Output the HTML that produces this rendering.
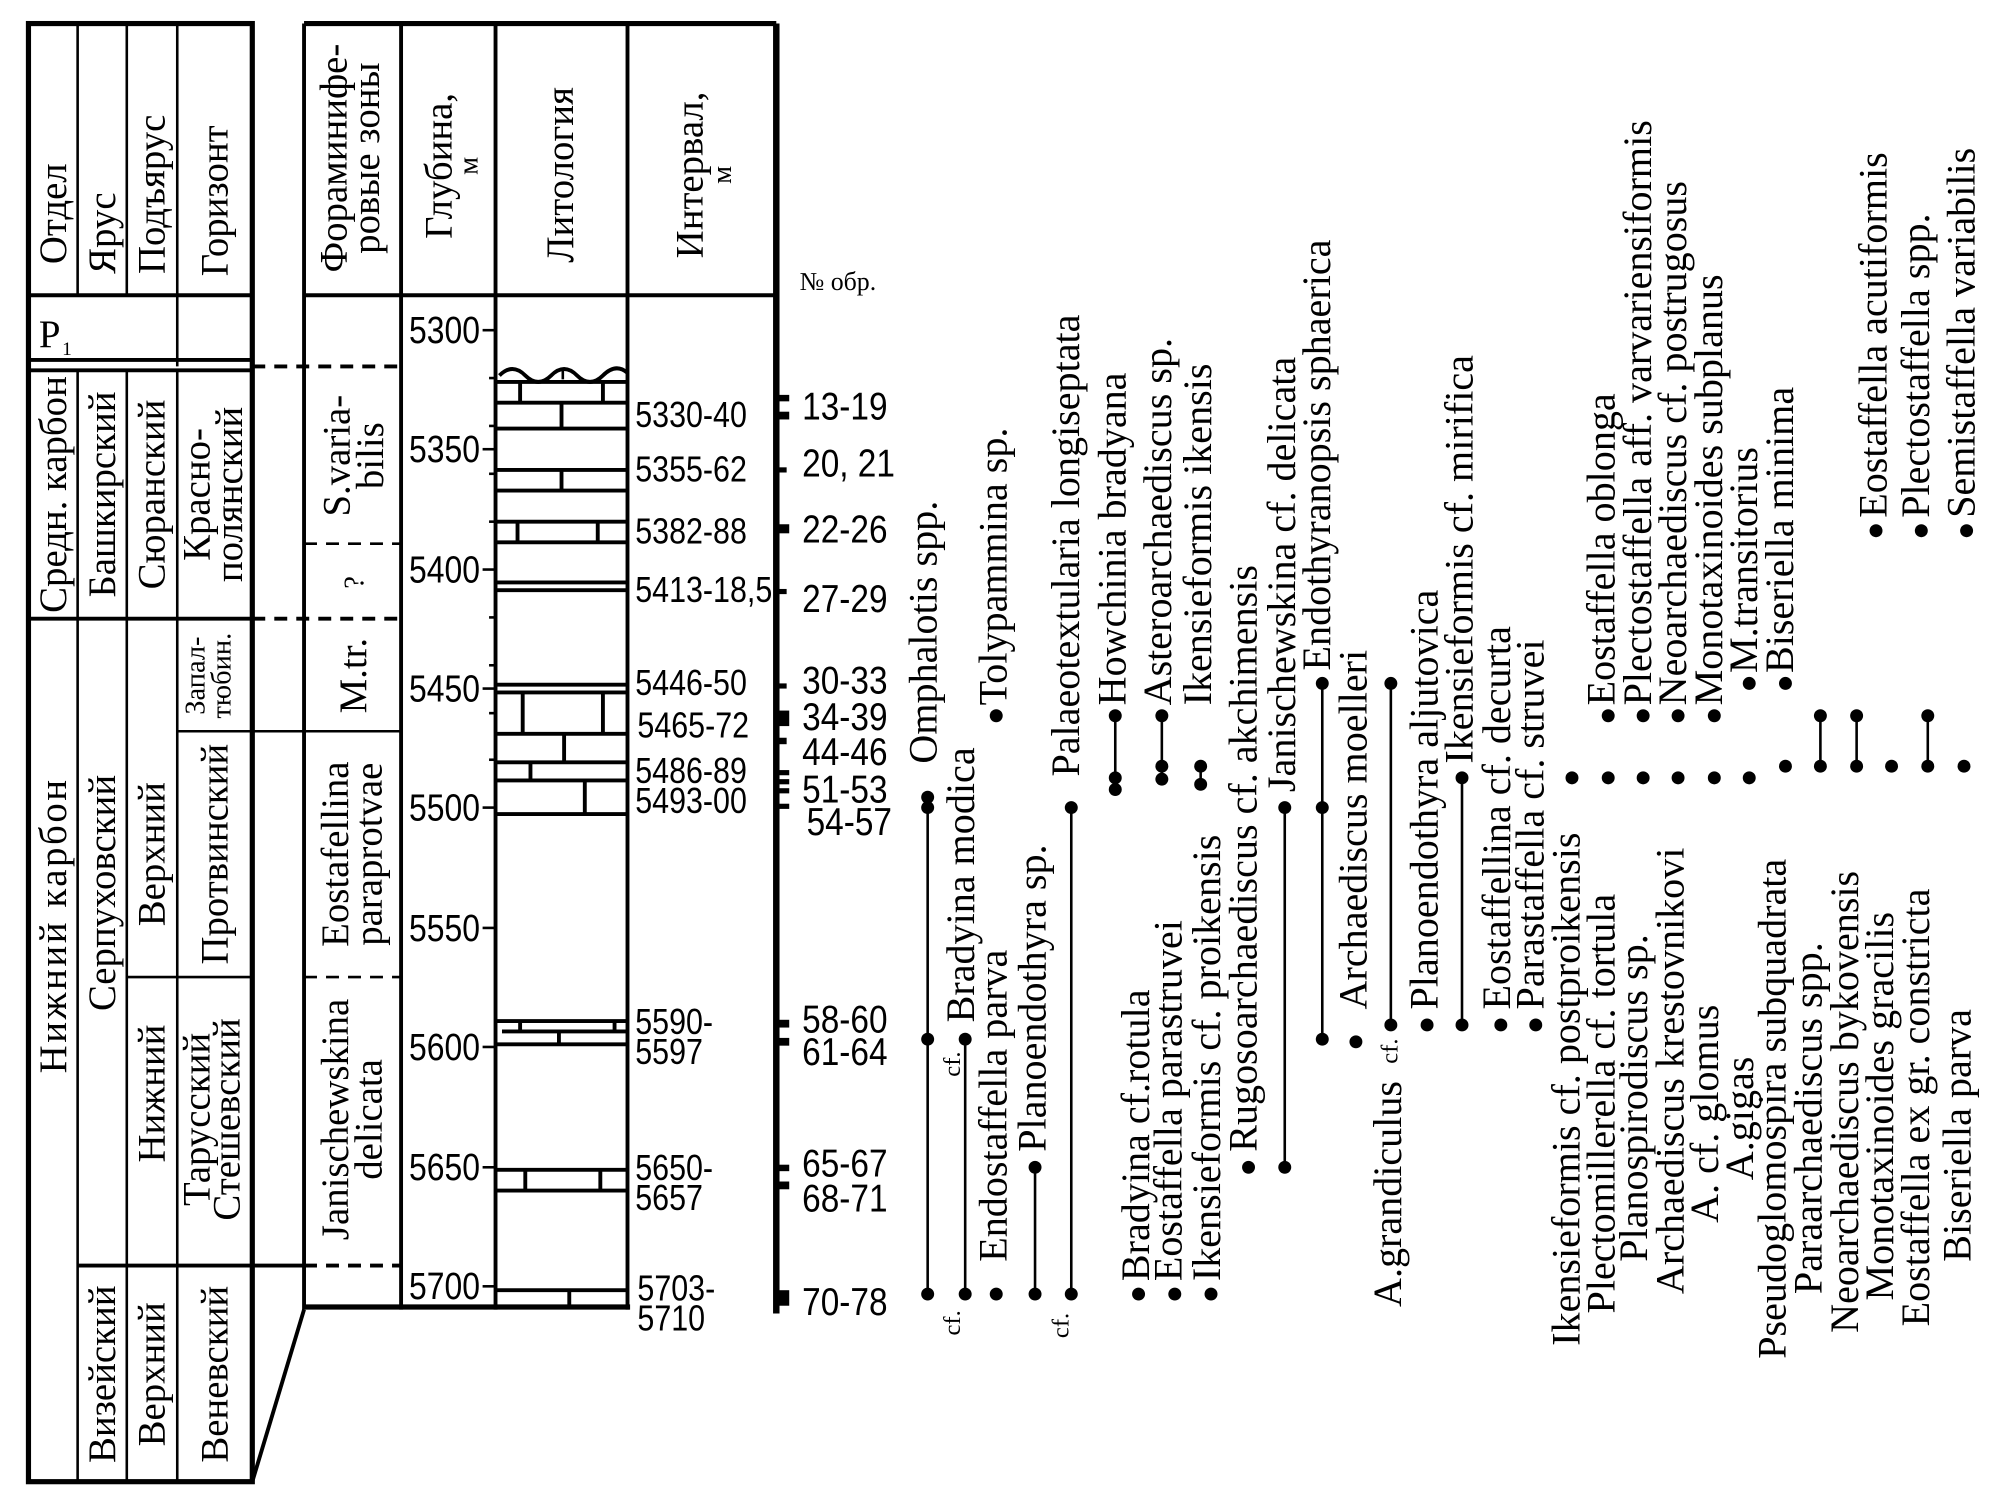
<!DOCTYPE html>
<html><head><meta charset="utf-8"><style>
html,body{margin:0;padding:0;background:#fff}
svg{display:block}
text{font-family:"Liberation Serif",serif;fill:#000}
.s{font-size:31px}
.n text{font-family:"Liberation Sans",sans-serif}
.n{font-size:28px}
.h{font-size:30px}
</style></head><body>
<svg width="2008" height="1491" viewBox="0 0 1552 1152" xmlns="http://www.w3.org/2000/svg">
<g stroke="#000" fill="none">
<rect x="22" y="18" width="173" height="1127" stroke-width="4"/>
<line x1="60" y1="18" x2="60" y2="228" stroke-width="2"/>
<line x1="98" y1="18" x2="98" y2="228" stroke-width="2"/>
<line x1="137" y1="18" x2="137" y2="283" stroke-width="2"/>
<line x1="22" y1="228" x2="195" y2="228" stroke-width="3"/>
<line x1="22" y1="278" x2="195" y2="278" stroke-width="3"/>
<line x1="22" y1="286" x2="195" y2="286" stroke-width="3"/>
<line x1="60" y1="286" x2="60" y2="1145" stroke-width="2"/>
<line x1="98" y1="286" x2="98" y2="1145" stroke-width="2"/>
<line x1="137" y1="286" x2="137" y2="1145" stroke-width="2"/>
<line x1="22" y1="478" x2="195" y2="478" stroke-width="3"/>
<line x1="137" y1="565" x2="310" y2="565" stroke-width="2"/>
<line x1="98" y1="755" x2="195" y2="755" stroke-width="2"/>
<line x1="60" y1="978" x2="235" y2="978" stroke-width="3"/>
<line x1="195" y1="1145" x2="235" y2="1012" stroke-width="3"/>
<line x1="195" y1="283" x2="310" y2="283" stroke-width="3" stroke-dasharray="10,7"/>
<line x1="195" y1="478" x2="310" y2="478" stroke-width="3" stroke-dasharray="10,7"/>
<line x1="235" y1="420" x2="310" y2="420" stroke-width="2" stroke-dasharray="10,7"/>
<line x1="235" y1="755" x2="310" y2="755" stroke-width="2" stroke-dasharray="10,7"/>
<line x1="235" y1="978" x2="310" y2="978" stroke-width="3" stroke-dasharray="10,7"/>
<line x1="235" y1="18" x2="600" y2="18" stroke-width="4"/>
<line x1="235" y1="18" x2="235" y2="1012" stroke-width="3"/>
<line x1="310" y1="18" x2="310" y2="1012" stroke-width="3"/>
<line x1="383" y1="18" x2="383" y2="1012" stroke-width="3"/>
<line x1="485" y1="18" x2="485" y2="1012" stroke-width="3"/>
<line x1="600" y1="18" x2="600" y2="1015" stroke-width="5"/>
<line x1="235" y1="228" x2="600" y2="228" stroke-width="3"/>
<line x1="235" y1="1010" x2="487" y2="1010" stroke-width="4"/>
<g stroke-width="2">
<line x1="373" y1="255" x2="383" y2="255"/><line x1="373" y1="347" x2="383" y2="347"/><line x1="373" y1="440" x2="383" y2="440"/><line x1="373" y1="532" x2="383" y2="532"/><line x1="373" y1="624" x2="383" y2="624"/><line x1="373" y1="717" x2="383" y2="717"/><line x1="373" y1="809" x2="383" y2="809"/><line x1="373" y1="902" x2="383" y2="902"/><line x1="373" y1="994" x2="383" y2="994"/>
<line x1="378" y1="292" x2="383" y2="292"/><line x1="378" y1="329" x2="383" y2="329"/><line x1="378" y1="366" x2="383" y2="366"/><line x1="378" y1="403" x2="383" y2="403"/><line x1="378" y1="477" x2="383" y2="477"/><line x1="378" y1="514" x2="383" y2="514"/><line x1="378" y1="551" x2="383" y2="551"/><line x1="378" y1="587" x2="383" y2="587"/>
</g>
<path d="M386 290 q10 -10 20 0 q10 10 20 0 q10 -10 20 0 q10 10 20 0 q10 -10 19 -2" stroke-width="3"/>
<line x1="435" y1="285" x2="435" y2="293" stroke-width="2"/>
<g stroke-width="3">
<line x1="383" y1="295" x2="485" y2="295"/>
<line x1="383" y1="311" x2="485" y2="311"/>
<line x1="383" y1="331" x2="485" y2="331"/>
<line x1="383" y1="363" x2="485" y2="363"/>
<line x1="383" y1="379" x2="485" y2="379"/>
<line x1="383" y1="403" x2="485" y2="403"/>
<line x1="383" y1="419" x2="485" y2="419"/>
<line x1="383" y1="450" x2="485" y2="450"/>
<line x1="383" y1="456" x2="485" y2="456"/>
<line x1="383" y1="529" x2="485" y2="529"/>
<line x1="383" y1="535" x2="485" y2="535"/>
<line x1="383" y1="567" x2="485" y2="567"/>
<line x1="383" y1="589" x2="485" y2="589"/>
<line x1="383" y1="603" x2="485" y2="603"/>
<line x1="383" y1="629" x2="485" y2="629"/>
<line x1="383" y1="789" x2="485" y2="789"/>
<line x1="388" y1="797" x2="485" y2="797"/>
<line x1="383" y1="807" x2="485" y2="807"/>
<line x1="383" y1="904" x2="485" y2="904"/>
<line x1="383" y1="920" x2="485" y2="920"/>
<line x1="383" y1="997" x2="485" y2="997"/>
<line x1="402" y1="295" x2="402" y2="311"/><line x1="466" y1="295" x2="466" y2="311"/>
<line x1="434" y1="311" x2="434" y2="331"/>
<line x1="434" y1="363" x2="434" y2="379"/>
<line x1="400" y1="403" x2="400" y2="419"/><line x1="462" y1="403" x2="462" y2="419"/>
<line x1="404" y1="535" x2="404" y2="567"/><line x1="466" y1="535" x2="466" y2="567"/>
<line x1="436" y1="567" x2="436" y2="589"/>
<line x1="410" y1="589" x2="410" y2="603"/>
<line x1="452" y1="603" x2="452" y2="629"/>
<line x1="402" y1="789" x2="402" y2="797"/><line x1="475" y1="789" x2="475" y2="797"/>
<line x1="432" y1="797" x2="432" y2="807"/>
<line x1="406" y1="904" x2="406" y2="920"/><line x1="464" y1="904" x2="464" y2="920"/>
<line x1="440" y1="997" x2="440" y2="1010"/>
</g>
</g>
<g fill="#000">
<rect x="600" y="305" width="10" height="5"/><rect x="600" y="318" width="10" height="6"/>
<rect x="600" y="361" width="8" height="4"/>
<rect x="600" y="405" width="10" height="7"/>
<rect x="600" y="455" width="8" height="4"/>
<rect x="600" y="528" width="8" height="4"/>
<rect x="600" y="549" width="10" height="12"/>
<rect x="600" y="570" width="8" height="5"/>
<rect x="600" y="595" width="10" height="4"/><rect x="600" y="602" width="10" height="4"/><rect x="600" y="609" width="10" height="4"/>
<rect x="600" y="621" width="10" height="4"/>
<rect x="600" y="788" width="10" height="6"/><rect x="600" y="802" width="10" height="6"/>
<rect x="600" y="900" width="10" height="5"/><rect x="600" y="913" width="10" height="6"/>
<rect x="600" y="997" width="10" height="12"/>
</g>
<g class="n" text-anchor="end" style="font-size:29px" transform="translate(371 0) scale(0.85 1) translate(-371 0)">
<text x="371" y="265">5300</text>
<text x="371" y="357">5350</text>
<text x="371" y="450">5400</text>
<text x="371" y="542">5450</text>
<text x="371" y="634">5500</text>
<text x="371" y="727">5550</text>
<text x="371" y="819">5600</text>
<text x="371" y="912">5650</text>
<text x="371" y="1004">5700</text>
</g>
<g class="n" transform="translate(491 0) scale(0.84 1) translate(-491 0)">
<text x="491" y="330">5330-40</text>
<text x="491" y="372">5355-62</text>
<text x="491" y="420">5382-88</text>
<text x="491" y="465">5413-18,5</text>
<text x="491" y="537">5446-50</text>
<text x="493" y="570">5465-72</text>
<text x="491" y="605">5486-89</text>
<text x="491" y="628">5493-00</text>
<text x="491" y="799">5590-</text>
<text x="491" y="822">5597</text>
<text x="491" y="912">5650-</text>
<text x="491" y="935">5657</text>
<text x="493" y="1005">5703-</text>
<text x="493" y="1028">5710</text>
</g>
<g class="n" style="font-size:30px" transform="translate(620 0) scale(0.86 1) translate(-620 0)">
<text x="620" y="324">13-19</text>
<text x="620" y="368">20, 21</text>
<text x="620" y="419">22-26</text>
<text x="620" y="473">27-29</text>
<text x="620" y="536">30-33</text>
<text x="620" y="564">34-39</text>
<text x="620" y="591">44-46</text>
<text x="620" y="620">51-53</text>
<text x="624" y="645">54-57</text>
<text x="620" y="798">58-60</text>
<text x="620" y="823">61-64</text>
<text x="620" y="909">65-67</text>
<text x="620" y="936">68-71</text>
<text x="620" y="1016">70-78</text>
</g>
<text x="618" y="224" style="font-size:20px">№ обр.</text>
<text x="30" y="268" style="font-size:30px">P</text><text x="48" y="274" style="font-size:15px">1</text>
<g class="h" text-anchor="middle">
<text transform="translate(51 165) rotate(-90)">Отдел</text>
<text transform="translate(89 180) rotate(-90)">Ярус</text>
<text transform="translate(127 150) rotate(-90)">Подъярус</text>
<text transform="translate(176 155) rotate(-90)">Горизонт</text>
<text transform="translate(268 122) rotate(-90)">Фораминифе-</text>
<text transform="translate(293 122) rotate(-90)">ровые зоны</text>
<text transform="translate(349 128) rotate(-90)">Глубина,</text>
<text transform="translate(369 128) rotate(-90)" style="font-size:22px">м</text>
<text transform="translate(443 135) rotate(-90)">Литология</text>
<text transform="translate(543 135) rotate(-90)">Интервал,</text>
<text transform="translate(565 135) rotate(-90)" style="font-size:22px">м</text>
<text transform="translate(51 382) rotate(-90)">Средн. карбон</text>
<text transform="translate(51 715) rotate(-90)" style="letter-spacing:2px">Нижний карбон</text>
<text transform="translate(89 382) rotate(-90)">Башкирский</text>
<text transform="translate(89 690) rotate(-90)">Серпуховский</text>
<text transform="translate(89 1062) rotate(-90)">Визейский</text>
<text transform="translate(127 382) rotate(-90)">Сюранский</text>
<text transform="translate(127 660) rotate(-90)">Верхний</text>
<text transform="translate(127 845) rotate(-90)">Нижний</text>
<text transform="translate(127 1062) rotate(-90)">Верхний</text>
<text transform="translate(162 382) rotate(-90)">Красно-</text>
<text transform="translate(187 382) rotate(-90)">полянский</text>
<text transform="translate(158 522) rotate(-90)" style="font-size:22px">Запал-</text>
<text transform="translate(178 522) rotate(-90)" style="font-size:22px">тюбин.</text>
<text transform="translate(176 660) rotate(-90)">Протвинский</text>
<text transform="translate(162 865) rotate(-90)">Тарусский</text>
<text transform="translate(185 865) rotate(-90)">Стешевский</text>
<text transform="translate(176 1062) rotate(-90)">Веневский</text>
<text transform="translate(270 352) rotate(-90)">S.varia-</text>
<text transform="translate(296 352) rotate(-90)">bilis</text>
<text transform="translate(281 450) rotate(-90)" style="font-size:22px">?</text>
<text transform="translate(283 522) rotate(-90)">M.tr.</text>
<text transform="translate(269 660) rotate(-90)">Eostafellina</text>
<text transform="translate(295 660) rotate(-90)">paraprotvae</text>
<text transform="translate(269 865) rotate(-90)">Janischewskina</text>
<text transform="translate(295 865) rotate(-90)">delicata</text>
</g>
<g stroke="#000" stroke-width="2">
<line x1="717" y1="622" x2="717" y2="1000"/>
<line x1="746" y1="803" x2="746" y2="1000"/>
<line x1="800" y1="902" x2="800" y2="1000"/>
<line x1="828" y1="622" x2="828" y2="1000"/>
<line x1="862" y1="553" x2="862" y2="610"/>
<line x1="898" y1="553" x2="898" y2="600"/>
<line x1="928" y1="590" x2="928" y2="606"/>
<line x1="993" y1="622" x2="993" y2="902"/>
<line x1="1022" y1="528" x2="1022" y2="803"/>
<line x1="1075" y1="528" x2="1075" y2="792"/>
<line x1="1130" y1="600" x2="1130" y2="792"/>
<line x1="1407" y1="553" x2="1407" y2="592"/>
<line x1="1435" y1="553" x2="1435" y2="592"/>
<line x1="1490" y1="553" x2="1490" y2="592"/>
</g>
<g fill="#000">
<circle cx="717" cy="616" r="5"/><circle cx="717" cy="624" r="5"/><circle cx="717" cy="803" r="5"/><circle cx="717" cy="1000" r="5"/>
<circle cx="746" cy="803" r="5"/><circle cx="746" cy="1000" r="5"/>
<circle cx="770" cy="1000" r="5"/><circle cx="770" cy="553" r="5"/>
<circle cx="800" cy="902" r="5"/><circle cx="800" cy="1000" r="5"/>
<circle cx="828" cy="624" r="5"/><circle cx="828" cy="1000" r="5"/>
<circle cx="880" cy="1000" r="5"/>
<circle cx="862" cy="553" r="5"/><circle cx="862" cy="601" r="5"/><circle cx="862" cy="610" r="5"/>
<circle cx="908" cy="1000" r="5"/>
<circle cx="898" cy="553" r="5"/><circle cx="898" cy="592" r="5"/><circle cx="898" cy="602" r="5"/>
<circle cx="928" cy="592" r="5"/><circle cx="928" cy="606" r="5"/>
<circle cx="936" cy="1000" r="5"/>
<circle cx="965" cy="902" r="5"/>
<circle cx="993" cy="624" r="5"/><circle cx="993" cy="902" r="5"/>
<circle cx="1022" cy="528" r="5"/><circle cx="1022" cy="624" r="5"/><circle cx="1022" cy="803" r="5"/>
<circle cx="1048" cy="805" r="5"/>
<circle cx="1075" cy="528" r="5"/><circle cx="1075" cy="792" r="5"/>
<circle cx="1103" cy="792" r="5"/>
<circle cx="1130" cy="601" r="5"/><circle cx="1130" cy="792" r="5"/>
<circle cx="1160" cy="792" r="5"/><circle cx="1187" cy="792" r="5"/>
<circle cx="1215" cy="601" r="5"/><circle cx="1243" cy="601" r="5"/><circle cx="1270" cy="601" r="5"/><circle cx="1297" cy="601" r="5"/><circle cx="1325" cy="601" r="5"/><circle cx="1352" cy="601" r="5"/>
<circle cx="1380" cy="592" r="5"/><circle cx="1407" cy="592" r="5"/><circle cx="1435" cy="592" r="5"/><circle cx="1462" cy="592" r="5"/><circle cx="1490" cy="592" r="5"/><circle cx="1518" cy="592" r="5"/>
<circle cx="1407" cy="553" r="5"/><circle cx="1435" cy="553" r="5"/><circle cx="1490" cy="553" r="5"/>
<circle cx="1243" cy="553" r="5"/><circle cx="1270" cy="553" r="5"/><circle cx="1297" cy="553" r="5"/><circle cx="1325" cy="553" r="5"/>
<circle cx="1352" cy="528" r="5"/><circle cx="1380" cy="528" r="5"/>
<circle cx="1450" cy="410" r="5"/><circle cx="1485" cy="410" r="5"/><circle cx="1520" cy="410" r="5"/>
</g>
<g class="s">
<text transform="translate(724 590) rotate(-90)">Omphalotis spp.</text>
<text transform="translate(753 790) rotate(-90)">Bradyina modica</text>
<text transform="translate(778 975) rotate(-90)">Endostaffella parva</text>
<text transform="translate(778 545) rotate(-90)">Tolypammina sp.</text>
<text transform="translate(808 890) rotate(-90)">Planoendothyra sp.</text>
<text transform="translate(834 600) rotate(-90)">Palaeotextularia longiseptata</text>
<text transform="translate(888 990) rotate(-90)">Bradyina cf.rotula</text>
<text transform="translate(870 545) rotate(-90)">Howchinia bradyana</text>
<text transform="translate(913 990) rotate(-90)">Eostaffella parastruvei</text>
<text transform="translate(905 545) rotate(-90)">Asteroarchaediscus sp.</text>
<text transform="translate(936 545) rotate(-90)">Ikensieformis ikensis</text>
<text transform="translate(943 990) rotate(-90)">Ikensieformis cf. proikensis</text>
<text transform="translate(971 890) rotate(-90)">Rugosoarchaediscus cf. akchimensis</text>
<text transform="translate(1001 612) rotate(-90)">Janischewskina cf. delicata</text>
<text transform="translate(1028 518) rotate(-90)">Endothyranopsis sphaerica</text>
<text transform="translate(1056 780) rotate(-90)">Archaediscus moelleri</text>
<text transform="translate(1083 1010) rotate(-90)">A.grandiculus</text>
<text transform="translate(1111 780) rotate(-90)">Planoendothyra aljutovica</text>
<text transform="translate(1138 590) rotate(-90)">Ikensieformis cf. mirifica</text>
<text transform="translate(1167 780) rotate(-90)">Eostaffellina cf. decurta</text>
<text transform="translate(1193 780) rotate(-90)">Parastaffella cf. struvei</text>
<text transform="translate(1221 1040) rotate(-90)">Ikensieformis cf. postproikensis</text>
<text transform="translate(1248 1015) rotate(-90)">Plectomillerella  cf. tortula</text>
<text transform="translate(1273 975) rotate(-90)">Planospirodiscus sp.</text>
<text transform="translate(1301 1000) rotate(-90)">Archaediscus krestovnikovi</text>
<text transform="translate(1328 945) rotate(-90)">A. cf. glomus</text>
<text transform="translate(1355 912) rotate(-90)">A.gigas</text>
<text transform="translate(1380 1050) rotate(-90)">Pseudoglomospira subquadrata</text>
<text transform="translate(1408 1000) rotate(-90)">Paraarchaediscus spp.</text>
<text transform="translate(1436 1030) rotate(-90)">Neoarchaediscus bykovensis</text>
<text transform="translate(1463 1005) rotate(-90)">Monotaxinoides gracilis</text>
<text transform="translate(1491 1025) rotate(-90)">Eostaffella ex gr. constricta</text>
<text transform="translate(1523 975) rotate(-90)">Biseriella parva</text>
<text transform="translate(1248 545) rotate(-90)">Eostaffella oblonga</text>
<text transform="translate(1276 545) rotate(-90)">Plectostaffella aff. varvariensiformis</text>
<text transform="translate(1303 545) rotate(-90)">Neoarchaediscus cf. postrugosus</text>
<text transform="translate(1331 545) rotate(-90)">Monotaxinoides subplanus</text>
<text transform="translate(1358 520) rotate(-90)">M.transitorius</text>
<text transform="translate(1386 520) rotate(-90)">Biseriella minima</text>
<text transform="translate(1458 400) rotate(-90)">Eostaffella acutiformis</text>
<text transform="translate(1491 400) rotate(-90)">Plectostaffella spp.</text>
<text transform="translate(1526 400) rotate(-90)">Semistaffella variabilis</text>
</g>
<g style="font-size:19px">
<text transform="translate(742 1032) rotate(-90)">cf.</text>
<text transform="translate(742 832) rotate(-90)">cf.</text>
<text transform="translate(826 1034) rotate(-90)">cf.</text>
<text transform="translate(1080 822) rotate(-90)">cf.</text>
</g>
</svg>
</body></html>
